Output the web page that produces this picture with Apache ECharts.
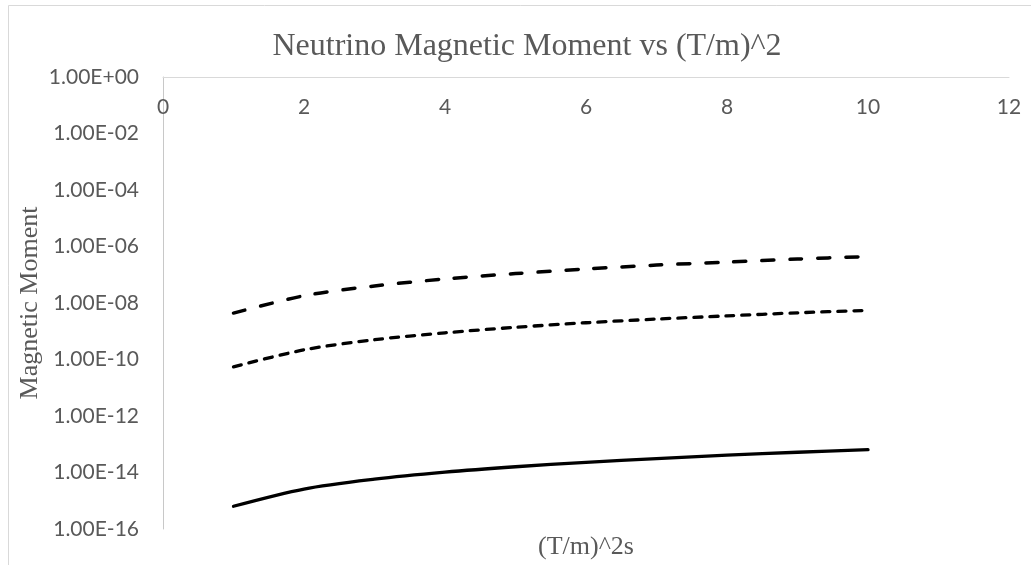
<!DOCTYPE html>
<html>
<head>
<meta charset="utf-8">
<script src="https://cdn.jsdelivr.net/npm/echarts@6/dist/echarts.min.js"></script>
<style>
html,body{margin:0;padding:0;background:#fff;}
#chart{width:1031px;height:565px;}
</style>
</head>
<body>
<div id="chart"></div>
<script>
const xValues = [1, 2, 3, 4, 5, 6, 7, 8, 9, 10];
const solidSeries = [6.4e-16, 2.6e-15, 5.8e-15, 1.03e-14, 1.6e-14, 2.3e-14, 3.1e-14, 4.1e-14, 5.2e-14, 6.4e-14];
const dottedSeries = [5.5e-11, 2.2e-10, 5.0e-10, 8.8e-10, 1.38e-9, 2.0e-9, 2.7e-9, 3.5e-9, 4.5e-9, 5.5e-9];
const dashedSeries = [4.4e-9, 1.8e-8, 4.0e-8, 7.1e-8, 1.1e-7, 1.6e-7, 2.2e-7, 2.8e-7, 3.6e-7, 4.4e-7];
const titleText = 'Neutrino Magnetic Moment vs (T/m)^2';
const xName = '(T/m)^2s';
const yName = 'Magnetic Moment';

function pairs(ys) { return xValues.map((x, i) => [x, ys[i]]); }
function fmtExp(v) {
  const e = Math.round(Math.log10(v));
  const sign = e < 0 ? '-' : '+';
  const a = Math.abs(e);
  return '1.00E' + sign + (a < 10 ? '0' + a : '' + a);
}

const chart = echarts.init(document.getElementById('chart'));
const gray = '#595959';
const serif = '"Liberation Serif", "Times New Roman", serif';
const sans = 'Lato, "Liberation Sans", sans-serif';

chart.setOption({
  animation: false,
  backgroundColor: '#fff',
  title: {
    text: titleText,
    left: 522,
    textAlign: 'center',
    top: 26,
    textStyle: { fontFamily: serif, fontSize: 32, fontWeight: 'normal', color: gray }
  },
  graphic: [{
    type: 'rect',
    shape: { x: 8.5, y: 5.5, width: 1100, height: 700 },
    style: { fill: 'none', stroke: '#d9d9d9', lineWidth: 1 },
    silent: true
  }],
  grid: { left: 163, right: 22, top: 77, bottom: 32 },
  xAxis: [{
    type: 'value',
    position: 'top',
    min: 0, max: 12, interval: 2,
    axisLine: { show: true, lineStyle: { color: '#d9d9d9', width: 1 } },
    axisTick: { show: false },
    splitLine: { show: false },
    axisLabel: { inside: true, margin: 20, fontFamily: sans, fontSize: 21, color: gray }
  }, {
    type: 'value',
    position: 'bottom',
    min: 0, max: 12,
    axisLine: { show: false },
    axisTick: { show: false },
    splitLine: { show: false },
    axisLabel: { show: false },
    name: xName,
    nameLocation: 'middle',
    nameGap: 5,
    nameTextStyle: { fontFamily: serif, fontSize: 26, color: gray }
  }],
  yAxis: {
    type: 'log',
    logBase: 10,
    min: 1e-16, max: 1,
    interval: 2,
    axisLine: { show: true, lineStyle: { color: '#c8c8c8', width: 1 } },
    axisTick: { show: false },
    splitLine: { show: false },
    axisLabel: { margin: 24, fontFamily: sans, fontSize: 21, color: gray, formatter: fmtExp },
    name: yName,
    nameLocation: 'middle',
    nameGap: 120,
    nameMoveOverlap: false,
    nameTextStyle: { fontFamily: serif, fontSize: 26, color: gray }
  },
  series: [{
    type: 'line', name: 'solid', data: pairs(solidSeries), smooth: 0.3, showSymbol: false, symbol: 'none',
    lineStyle: { color: '#000', width: 3.3, cap: 'round' }
  }, {
    type: 'line', name: 'dotted', data: pairs(dottedSeries), smooth: 0.3, showSymbol: false, symbol: 'none',
    lineStyle: { color: '#000', width: 3.3, type: [8, 8], cap: 'round' }
  }, {
    type: 'line', name: 'dashed', data: pairs(dashedSeries), smooth: 0.3, showSymbol: false, symbol: 'none',
    lineStyle: { color: '#000', width: 3.5, type: [12, 16], cap: 'round' }
  }]
});
</script>
</body>
</html>
